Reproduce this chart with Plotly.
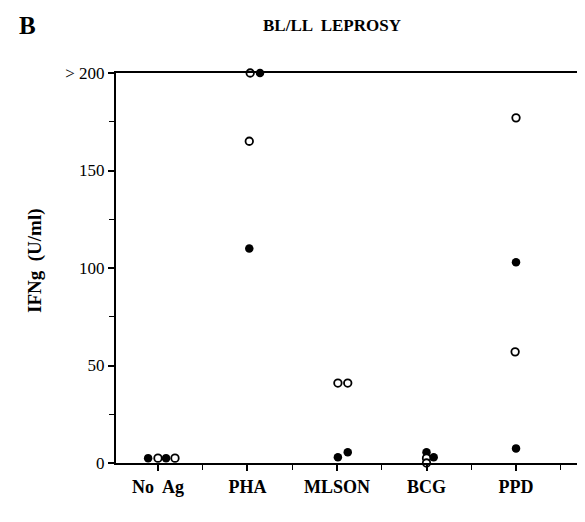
import plotly.graph_objects as go

categories = ["No  Ag", "PHA", "MLSON", "BCG", "PPD"]

# open circles (value per point, category index, small horizontal jitter)
open_cat = [0, 0, 1, 1, 2, 2, 3, 3, 4, 4]
open_val = [2.5, 2.5, 200, 165, 41, 41, 2.5, 0, 177, 57]
open_jit = [0.0, 0.19, 0.03, 0.02, 0.01, 0.12, 0.0, 0.0, 0.0, -0.01]

# filled circles
fill_cat = [0, 0, 1, 1, 2, 2, 3, 3, 4, 4]
fill_val = [2.5, 2.5, 200, 110, 3, 5.5, 5.5, 3, 103, 7.5]
fill_jit = [-0.11, 0.09, 0.14, 0.02, 0.01, 0.12, 0.0, 0.08, 0.0, 0.0]

y_ticks = [0, 50, 100, 150, 200]
y_ticktext = ["0", "50", "100", "150", "> 200"]

SERIF = "Liberation Serif, Times New Roman, serif"

fig = go.Figure()
fig.add_trace(go.Scatter(
    x=[c + j for c, j in zip(fill_cat, fill_jit)], y=fill_val, mode="markers",
    marker=dict(symbol="circle", size=8.5, color="black", line=dict(width=0)),
    cliponaxis=False, showlegend=False, hoverinfo="skip"))
fig.add_trace(go.Scatter(
    x=[c + j for c, j in zip(open_cat, open_jit)], y=open_val, mode="markers",
    marker=dict(symbol="circle", size=7.5, color="white", line=dict(width=1.8, color="black")),
    cliponaxis=False, showlegend=False, hoverinfo="skip"))

# plot area: x 108..585, y 65..455 (px)
L, R, T, B = 108, 585, 65, 455

def px_x(p):
    return (p - L) / float(R - L)

def px_y(p):
    return (B - p) / float(B - T)

fig.update_layout(
    width=585, height=522,
    margin=dict(l=L, r=585 - R, t=T, b=522 - B),
    plot_bgcolor="white", paper_bgcolor="white",
    font=dict(family=SERIF, color="black", size=17),
    xaxis=dict(
        range=[-0.469, 4.86], tickmode="array",
        tickvals=list(range(len(categories))), ticktext=categories,
        tickfont=dict(family=SERIF, size=18, weight="bold"),
        ticks="outside", ticklen=6, tickwidth=1.5, tickcolor="black",
        minor=dict(tickmode="array", tickvals=[0.5, 1.5, 2.5, 3.5, 4.5], ticks="outside",
                   ticklen=5, tickwidth=1.2, tickcolor="black"),
        showline=True, linecolor="black", linewidth=2, mirror=True,
        showgrid=False, zeroline=False, fixedrange=True),
    yaxis=dict(
        range=[0, 200], tickmode="array", tickvals=y_ticks, ticktext=y_ticktext,
        tickfont=dict(family=SERIF, size=17),
        ticks="outside", ticklen=6, tickwidth=1.5, tickcolor="black",
        minor=dict(tickmode="array", tickvals=[25, 75, 125, 175], ticks="outside",
                   ticklen=5, tickwidth=1.2, tickcolor="black"),
        showline=True, linecolor="black", linewidth=2,
        showgrid=False, zeroline=False, fixedrange=True),
    annotations=[
        dict(text="<b>B</b>", xref="paper", yref="paper", x=px_x(19), y=px_y(18),
             xanchor="center", yanchor="middle",
             showarrow=False, font=dict(family=SERIF, size=25)),
        dict(text="<b>BL/LL  LEPROSY</b>", xref="paper", yref="paper", x=px_x(324), y=px_y(18),
             xanchor="center", yanchor="middle",
             showarrow=False, font=dict(family=SERIF, size=17)),
        dict(text="<b>IFNg  (U/ml)</b>", xref="paper", yref="paper", x=px_x(27), y=px_y(253),
             xanchor="center", yanchor="middle",
             textangle=-90, showarrow=False, font=dict(family=SERIF, size=19)),
    ],
)

fig.write_html("out.html")
